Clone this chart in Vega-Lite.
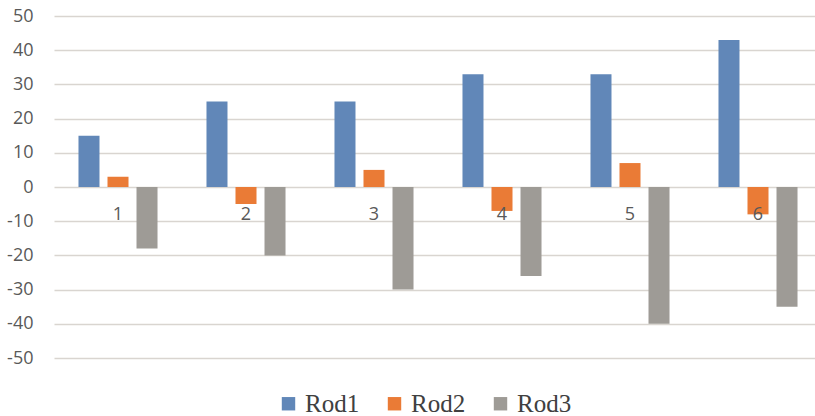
{
  "$schema": "https://vega.github.io/schema/vega-lite/v6.json",
  "autosize": "none",
  "width": 768,
  "height": 342,
  "padding": {"left": 54, "top": 16, "right": 0, "bottom": 58},
  "background": "white",
  "data": {
    "values": [
      {"group": "1", "series": "Rod1", "value": 15},
      {"group": "1", "series": "Rod2", "value": 3},
      {"group": "1", "series": "Rod3", "value": -18},
      {"group": "2", "series": "Rod1", "value": 25},
      {"group": "2", "series": "Rod2", "value": -5},
      {"group": "2", "series": "Rod3", "value": -20},
      {"group": "3", "series": "Rod1", "value": 25},
      {"group": "3", "series": "Rod2", "value": 5},
      {"group": "3", "series": "Rod3", "value": -30},
      {"group": "4", "series": "Rod1", "value": 33},
      {"group": "4", "series": "Rod2", "value": -7},
      {"group": "4", "series": "Rod3", "value": -26},
      {"group": "5", "series": "Rod1", "value": 33},
      {"group": "5", "series": "Rod2", "value": 7},
      {"group": "5", "series": "Rod3", "value": -40},
      {"group": "6", "series": "Rod1", "value": 43},
      {"group": "6", "series": "Rod2", "value": -8},
      {"group": "6", "series": "Rod3", "value": -35}
    ]
  },
  "mark": {"type": "bar"},
  "encoding": {
    "x": {
      "field": "group",
      "type": "nominal",
      "sort": null,
      "scale": {"paddingInner": 0.32, "paddingOuter": 0.16},
      "axis": {
        "title": null,
        "orient": "bottom",
        "offset": -171,
        "domain": false,
        "ticks": false,
        "labelAngle": 0,
        "labelPadding": 18,
        "labelFont": "Open Sans",
        "labelFontSize": 18,
        "labelColor": "#595959",
        "zindex": 1,
        "grid": false
      }
    },
    "xOffset": {
      "field": "series",
      "type": "nominal",
      "scale": {"paddingInner": 0.276, "paddingOuter": 0.138}
    },
    "y": {
      "field": "value",
      "type": "quantitative",
      "scale": {"domain": [-50, 50], "nice": false},
      "axis": {
        "title": null,
        "values": [-50, -40, -30, -20, -10, 0, 10, 20, 30, 40, 50],
        "labelExpr": "toString(datum.value)",
        "domain": false,
        "ticks": false,
        "labelPadding": 21,
        "labelFont": "Open Sans",
        "labelFontSize": 18,
        "labelColor": "#595959",
        "gridColor": "#d9d5d0",
        "gridWidth": 1.3
      }
    },
    "color": {
      "field": "series",
      "type": "nominal",
      "scale": {"domain": ["Rod1", "Rod2", "Rod3"], "range": ["#6187b8", "#ea7b36", "#9e9b96"]},
      "legend": {
        "title": null,
        "orient": "none",
        "direction": "horizontal",
        "legendX": 222,
        "legendY": 375,
        "symbolType": "square",
        "symbolSize": 180,
        "symbolStrokeWidth": 0,
        "labelFont": "Liberation Serif, Times New Roman, DejaVu Serif, serif",
        "labelFontSize": 25,
        "labelColor": "#404040",
        "columnPadding": 22,
        "labelOffset": 4
      }
    }
  },
  "config": {"view": {"stroke": null}}
}
